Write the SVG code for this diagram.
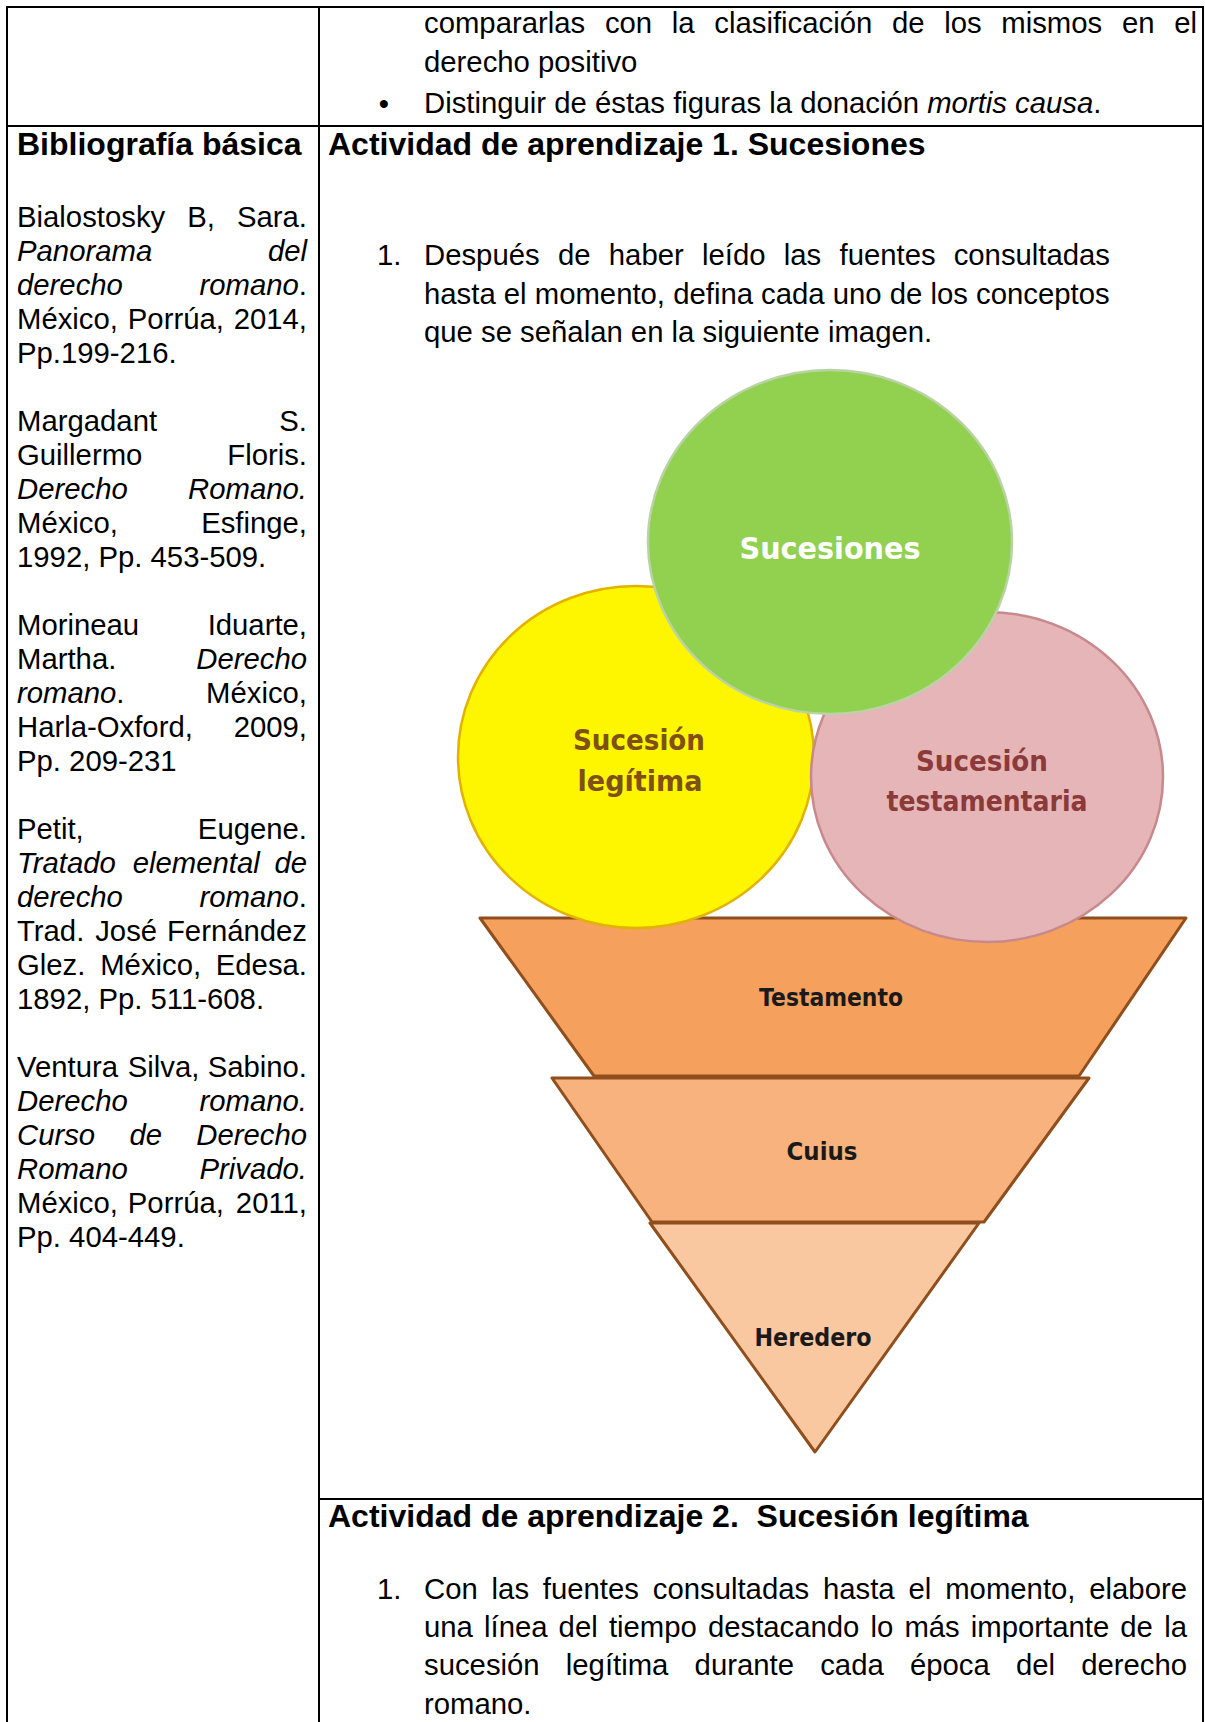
<svg xmlns="http://www.w3.org/2000/svg" width="1205" height="1722" viewBox="0 0 1205 1722">
<style>
.t{font-family:"Liberation Sans",Arial,sans-serif;font-size:29.3px;fill:#000}
.h{font-weight:bold;font-size:32px}
.i{font-style:italic}
.e{text-anchor:end}
.ln{stroke:#000;stroke-width:2;fill:none}
.lbl{font-family:"DejaVu Sans",Verdana,sans-serif;font-weight:bold;text-anchor:middle}
.seg{stroke:#8F4E1C;stroke-width:3;stroke-linejoin:round}
</style>
<rect x="0" y="0" width="1205" height="1722" fill="#fff"/>

<g id="table-lines">
<line class="ln" x1="6" y1="7" x2="1204" y2="7"/>
<line class="ln" x1="7" y1="6" x2="7" y2="1722"/>
<line class="ln" x1="319" y1="6" x2="319" y2="1722"/>
<line class="ln" x1="1203" y1="6" x2="1203" y2="1722"/>
<line class="ln" x1="6" y1="126" x2="1204" y2="126"/>
<line class="ln" x1="319" y1="1499" x2="1204" y2="1499"/>
</g>

<g id="top-row-text">
<text class="t" y="33"><tspan x="424">compararlas</tspan><tspan x="604.9">con</tspan><tspan x="671.8">la</tspan><tspan x="714.3">clasificación</tspan><tspan x="891.9">de</tspan><tspan x="944.2">los</tspan><tspan x="1001.3">mismos</tspan><tspan x="1121.9">en</tspan></text>
<text class="t e" x="1197" y="33">el</text>
<text class="t" x="424" y="72">derecho positivo</text>
<text class="t" x="384" y="114" text-anchor="middle">•</text>
<text class="t" x="424" y="113">Distinguir de éstas figuras la donación <tspan class="i">mortis causa</tspan>.</text>
</g>

<g id="bibliografia">
<text class="t h" x="17" y="155">Bibliografía básica</text>
<text class="t" y="227"><tspan x="17">Bialostosky</tspan><tspan x="187.2">B,</tspan></text>
<text class="t e" x="307" y="227">Sara.</text>
<text class="t i" x="17" y="261">Panorama</text>
<text class="t i e" x="307" y="261">del</text>
<text class="t i" x="17" y="295">derecho</text>
<text class="t e" x="307" y="295"><tspan class="i">romano</tspan>.</text>
<text class="t" y="329"><tspan x="17">México,</tspan><tspan x="127.8">Porrúa,</tspan></text>
<text class="t e" x="307" y="329">2014,</text>
<text class="t" x="17" y="363">Pp.199-216.</text>

<text class="t" x="17" y="431">Margadant</text>
<text class="t e" x="307" y="431">S.</text>
<text class="t" x="17" y="465">Guillermo</text>
<text class="t e" x="307" y="465">Floris.</text>
<text class="t i" x="17" y="499">Derecho</text>
<text class="t i e" x="307" y="499">Romano.</text>
<text class="t" x="17" y="533">México,</text>
<text class="t e" x="307" y="533">Esfinge,</text>
<text class="t" x="17" y="567">1992, Pp. 453-509.</text>

<text class="t" x="17" y="635">Morineau</text>
<text class="t e" x="307" y="635">Iduarte,</text>
<text class="t" x="17" y="669">Martha.</text>
<text class="t i e" x="307" y="669">Derecho</text>
<text class="t" x="17" y="703"><tspan class="i">romano</tspan>.</text>
<text class="t e" x="307" y="703">México,</text>
<text class="t" x="17" y="737">Harla-Oxford,</text>
<text class="t e" x="307" y="737">2009,</text>
<text class="t" x="17" y="771">Pp. 209-231</text>

<text class="t" x="17" y="839">Petit,</text>
<text class="t e" x="307" y="839">Eugene.</text>
<text class="t i" y="873"><tspan x="17">Tratado</tspan><tspan x="132.7">elemental</tspan></text>
<text class="t i e" x="307" y="873">de</text>
<text class="t i" x="17" y="907">derecho</text>
<text class="t e" x="307" y="907"><tspan class="i">romano</tspan>.</text>
<text class="t" y="941"><tspan x="17">Trad.</tspan><tspan x="95.2">José</tspan></text>
<text class="t e" x="307" y="941">Fernández</text>
<text class="t" y="975"><tspan x="17">Glez.</tspan><tspan x="100.2">México,</tspan></text>
<text class="t e" x="307" y="975">Edesa.</text>
<text class="t" x="17" y="1009">1892, Pp. 511-608.</text>

<text class="t" y="1077"><tspan x="17">Ventura</tspan><tspan x="127.8">Silva,</tspan></text>
<text class="t e" x="307" y="1077">Sabino.</text>
<text class="t i" x="17" y="1111">Derecho</text>
<text class="t i e" x="307" y="1111">romano.</text>
<text class="t i" y="1145"><tspan x="17">Curso</tspan><tspan x="129.4">de</tspan></text>
<text class="t i e" x="307" y="1145">Derecho</text>
<text class="t i" x="17" y="1179">Romano</text>
<text class="t i e" x="307" y="1179">Privado.</text>
<text class="t" y="1213"><tspan x="17">México,</tspan><tspan x="127.8">Porrúa,</tspan></text>
<text class="t e" x="307" y="1213">2011,</text>
<text class="t" x="17" y="1247">Pp. 404-449.</text>
</g>

<g id="actividad1">
<text class="t h" x="328" y="155">Actividad de aprendizaje 1. Sucesiones</text>
<text class="t" x="377" y="265">1.</text>
<text class="t" y="265"><tspan x="424">Después</tspan><tspan x="557.9">de</tspan><tspan x="608.8">haber</tspan><tspan x="702">leído</tspan><tspan x="783.8">las</tspan><tspan x="839.5">fuentes</tspan></text>
<text class="t e" x="1110" y="265">consultadas</text>
<text class="t" x="424" y="304">hasta el momento, defina cada uno de los conceptos</text>
<text class="t" x="424" y="342">que se señalan en la siguiente imagen.</text>
</g>

<g id="node-testamento">
<polygon class="seg" points="480,918 1186,918 1079,1076 594,1076" fill="#F5A05C"/>
<text class="lbl" x="831" y="1006" font-size="24.5" fill="#1a1a1a" textLength="144" lengthAdjust="spacingAndGlyphs">Testamento</text>
</g>
<g id="node-cuius">
<polygon class="seg" points="552,1078 1089,1078 984,1222 652,1222" fill="#F7B27E"/>
<text class="lbl" x="822" y="1160" font-size="24.5" fill="#1a1a1a" textLength="71" lengthAdjust="spacingAndGlyphs">Cuius</text>
</g>
<g id="node-heredero">
<polygon class="seg" points="650,1223 979,1223 815,1452" fill="#F9C7A0"/>
<text class="lbl" x="813" y="1346" font-size="24.5" fill="#1a1a1a" textLength="117" lengthAdjust="spacingAndGlyphs">Heredero</text>
</g>

<g id="node-sucesion-legitima">
<ellipse cx="636" cy="757" rx="178" ry="171" fill="#FEF500" stroke="#E2B200" stroke-width="2.5"/>
<text class="lbl" x="639" y="750" font-size="29" fill="#7F4F16" textLength="132" lengthAdjust="spacingAndGlyphs">Sucesión</text>
<text class="lbl" x="640" y="791" font-size="29" fill="#7F4F16" textLength="125" lengthAdjust="spacingAndGlyphs">legítima</text>
</g>
<g id="node-sucesion-testamentaria">
<ellipse cx="987" cy="777" rx="176" ry="165" fill="#E6B5B7" stroke="#C7898C" stroke-width="2.5"/>
<text class="lbl" x="982" y="771" font-size="29" fill="#8B3A3A" textLength="132" lengthAdjust="spacingAndGlyphs">Sucesión</text>
<text class="lbl" x="987" y="811" font-size="29" fill="#8B3A3A" textLength="201" lengthAdjust="spacingAndGlyphs">testamentaria</text>
</g>
<g id="node-sucesiones">
<ellipse cx="830" cy="542" rx="182" ry="172" fill="#92D050" stroke="#B9D3A5" stroke-width="2.5"/>
<text class="lbl" x="830" y="559" font-size="30" fill="#FFFFFF" textLength="181" lengthAdjust="spacingAndGlyphs">Sucesiones</text>
</g>

<g id="actividad2">
<text class="t h" x="328" y="1527" style="white-space:pre">Actividad de aprendizaje 2.  Sucesión legítima</text>
<text class="t" x="377" y="1599">1.</text>
<text class="t" y="1599"><tspan x="424">Con</tspan><tspan x="491.6">las</tspan><tspan x="542.8">fuentes</tspan><tspan x="652.8">consultadas</tspan><tspan x="822.9">hasta</tspan><tspan x="908.5">el</tspan><tspan x="945.2">momento,</tspan></text>
<text class="t e" x="1187" y="1599">elabore</text>
<text class="t" y="1637"><tspan x="424">una</tspan><tspan x="484">línea</tspan><tspan x="558.6">del</tspan><tspan x="608.9">tiempo</tspan><tspan x="707.9">destacando</tspan><tspan x="870.5">lo</tspan><tspan x="904.4">más</tspan><tspan x="970.8">importante</tspan><tspan x="1120.3">de</tspan></text>
<text class="t e" x="1187" y="1637">la</text>
<text class="t" y="1675"><tspan x="424">sucesión</tspan><tspan x="565.8">legítima</tspan><tspan x="694.6">durante</tspan><tspan x="820.2">cada</tspan><tspan x="909.9">época</tspan><tspan x="1015.9">del</tspan></text>
<text class="t e" x="1187" y="1675">derecho</text>
<text class="t" x="424" y="1714">romano.</text>
</g>
</svg>
